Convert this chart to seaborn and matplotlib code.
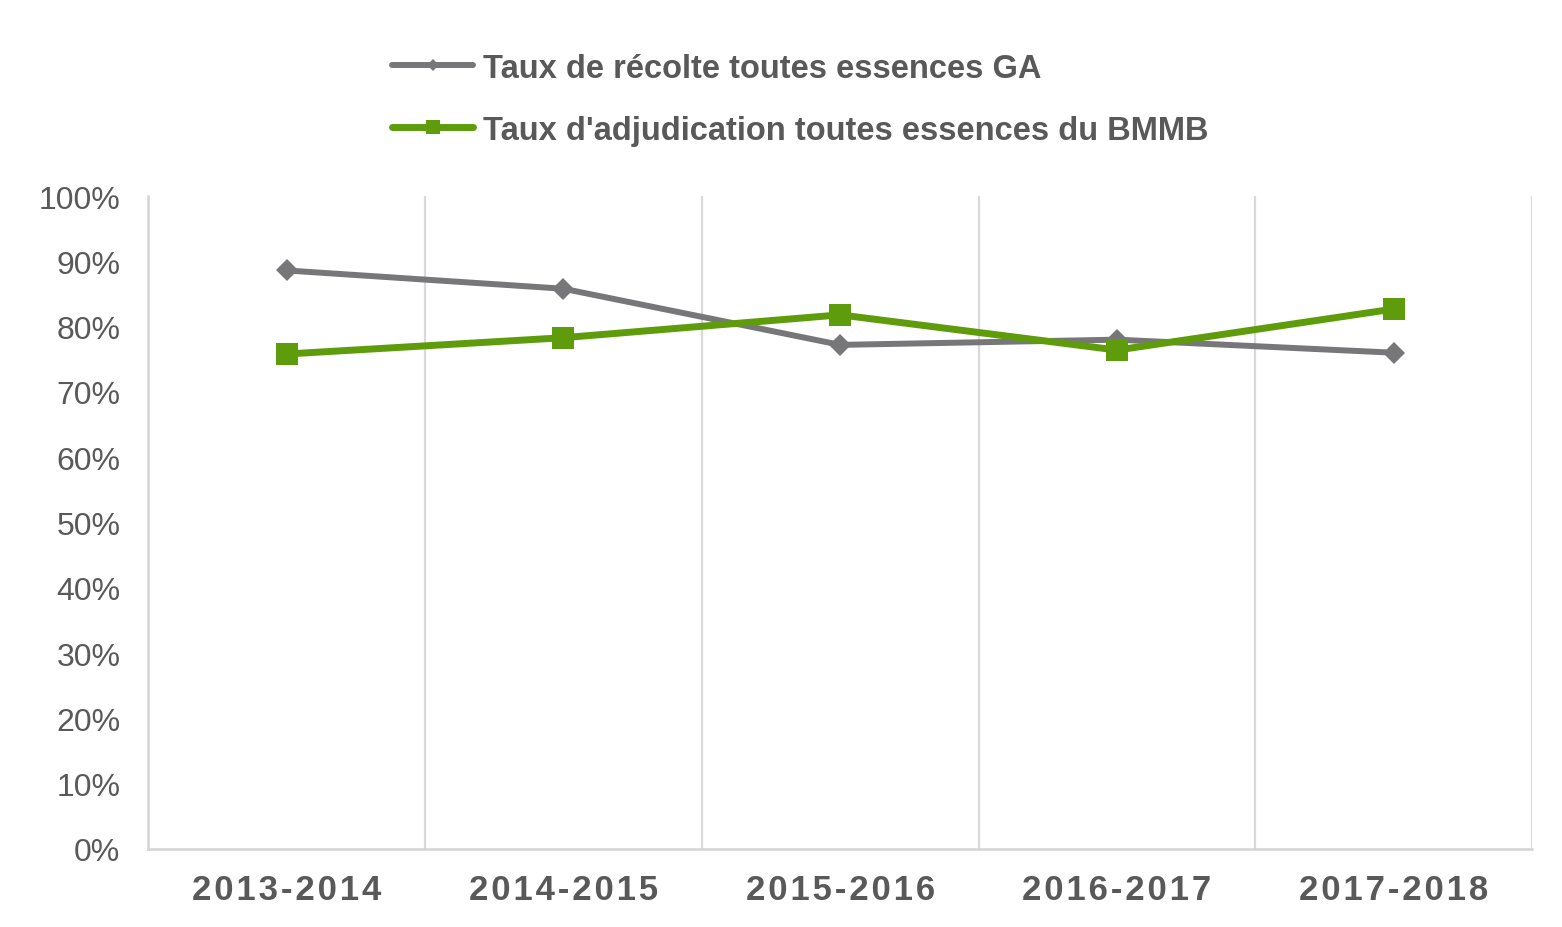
import numpy as np
import pandas as pd
import matplotlib
matplotlib.use("Agg")
import matplotlib.pyplot as plt
import seaborn as sns

# Data
periods = ['2013-2014', '2014-2015', '2015-2016', '2016-2017', '2017-2018']
recolte_ga = [0.886, 0.858, 0.772, 0.780, 0.760]
adjudication_bmmb = [0.758, 0.783, 0.818, 0.764, 0.827]
label_recolte = 'Taux de récolte toutes essences GA'
label_adjud = "Taux d'adjudication toutes essences du BMMB"
y_ticks = [0, 0.1, 0.2, 0.3, 0.4, 0.5, 0.6, 0.7, 0.8, 0.9, 1.0]

gray = '#77777a'
green = '#5e9c0c'
text_col = '#595959'

sns.set_style('white')
plt.rcParams['font.family'] = ['Liberation Sans', 'DejaVu Sans']

df = pd.DataFrame({'periode': periods, 'recolte': recolte_ga, 'adjud': adjudication_bmmb})
df['x'] = np.arange(len(periods))

fig = plt.figure(figsize=(15.62, 9.28), dpi=100)
ax = fig.add_axes([0.0948, 0.0841, 0.8862, 0.7036])

sns.lineplot(data=df, x='x', y='recolte', ax=ax, color=gray, linewidth=4.3,
             marker='D', markersize=11, markeredgewidth=0, label=label_recolte)
sns.lineplot(data=df, x='x', y='adjud', ax=ax, color=green, linewidth=5,
             marker='s', markersize=16, markeredgewidth=0, label=label_adjud)

ax.set_xlim(-0.5, len(periods) - 0.5)
ax.set_ylim(0, 1)
ax.set_yticks(y_ticks)
ax.set_yticklabels([f'{int(round(v * 100))}%' for v in y_ticks])
ax.set_xticks(df['x'])
spaced = ['\u200a'.join(p) for p in periods]
ax.set_xticklabels(spaced, fontweight='bold', fontsize=25, color=text_col)
ax.tick_params(axis='y', length=0, pad=20, labelsize=23, labelcolor=text_col)
ax.tick_params(axis='x', length=0, pad=17)
ax.set_xlabel('')
ax.set_ylabel('')

# vertical separators between categories
for b in np.arange(0.5, len(periods) - 0.5, 1.0):
    ax.axvline(b, color='#d9d9d9', linewidth=1.6, zorder=0)
ax.axvline(len(periods) - 0.5, color='#d9d9d9', linewidth=1.6, zorder=0)

for side in ['top', 'right']:
    ax.spines[side].set_visible(False)
for side in ['left', 'bottom']:
    ax.spines[side].set_color('#d4d4d4')
    ax.spines[side].set_linewidth(1.8)

leg = ax.legend(loc='upper left', bbox_to_anchor=(0.232, 0.974),
                bbox_transform=fig.transFigure, frameon=False,
                fontsize=23.5, handlelength=2.5, handletextpad=0.3,
                labelspacing=0.95, markerscale=0.6)
for t in leg.get_texts():
    t.set_color(text_col)
    t.set_fontweight('bold')

fig.savefig('out.png', dpi=100)
